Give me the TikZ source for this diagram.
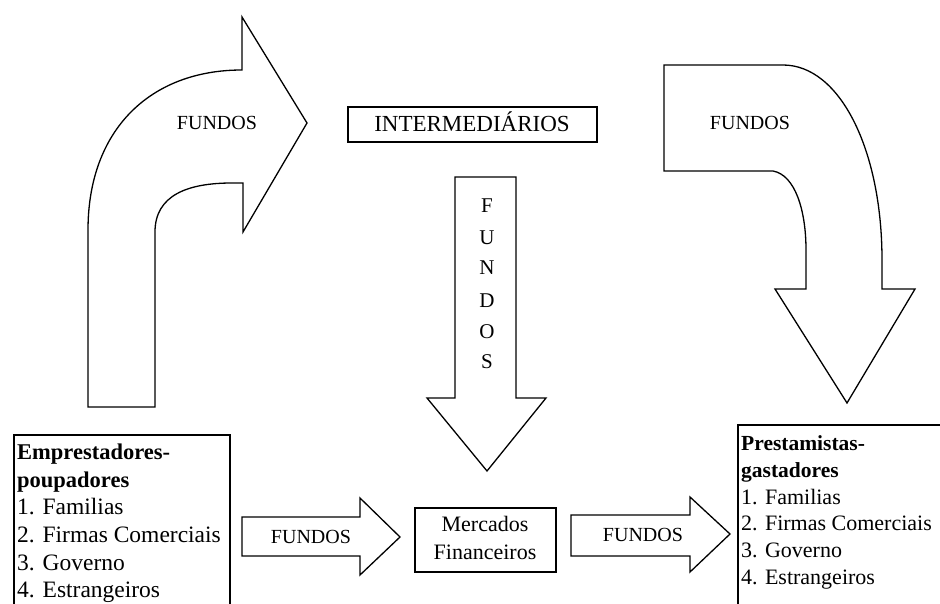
\documentclass[tikz,border=0pt]{standalone}
\usepackage{fontspec}
\setmainfont{Liberation Serif}
\begin{document}
\begin{tikzpicture}[x=1pt,y=-1pt,
  blk/.style={draw=black, line width=1.3pt, line join=miter, fill=white},
  frame/.style={draw=black, line width=1.3pt},
  fundo/.style={font=\fontsize{20}{24}\selectfont, anchor=base, inner sep=0pt},
  vlet/.style={font=\fontsize{21}{24}\selectfont, anchor=base, inner sep=0pt},
  ltxt/.style={font=\fontsize{23.5}{28}\selectfont, anchor=base west, inner sep=0pt},
  lbold/.style={font=\fontsize{22.5}{28}\selectfont\bfseries, anchor=base west, inner sep=0pt},
  rtxt/.style={font=\fontsize{22}{27}\selectfont, anchor=base west, inner sep=0pt},
  rbold/.style={font=\fontsize{21.5}{27}\selectfont\bfseries, anchor=base west, inner sep=0pt},
  mtxt/.style={font=\fontsize{22}{26}\selectfont, anchor=base, inner sep=0pt}]
\useasboundingbox (0,0) rectangle (940,604);
\clip (0,0) rectangle (940,604);

% left curved arrow
\draw[blk] (88,407) -- (88,230) .. controls (88,130) and (150,70) .. (242,70)
  -- (242,17) -- (307,123) -- (243,232) -- (243,183) -- (232,183)
  .. controls (188,183) and (155,195) .. (155,232) -- (155,407) -- cycle;
\node[fundo] (f1) at (217,129.6) {FUNDOS};

% intermediarios
\draw[frame] (348,107) rectangle (597,142);
\node[font=\fontsize{23}{26}\selectfont, anchor=base, inner sep=0pt] (inter) at (472,131.6) {INTERMEDIÁRIOS};

% right curved arrow
\draw[blk] (664,65) -- (783,65) .. controls (840,65) and (882,150) .. (882,260)
  -- (882,289) -- (915,289) -- (847,403) -- (775,289) -- (806,289) -- (806,250)
  .. controls (806,210) and (795,175) .. (773,171) -- (664,171) -- cycle;
\node[fundo] (f2) at (750,129.6) {FUNDOS};

% middle down arrow
\draw[blk] (455,177) -- (516,177) -- (516,398) -- (546,398) -- (487,471)
  -- (427,398) -- (455,398) -- cycle;
\node[vlet] (v1) at (487,213) {F};
\node[vlet] (v2) at (487,244) {U};
\node[vlet] (v3) at (487,275) {N};
\node[vlet] (v4) at (487,307) {D};
\node[vlet] (v5) at (487,338) {O};
\node[vlet] (v6) at (487,368) {S};

% left box
\draw[frame] (14,640) -- (14,435) -- (230,435) -- (230,640);
\node[lbold] (e1) at (17,459) {Emprestadores-};
\node[lbold] (e2) at (17,487) {poupadores};
\node[ltxt] (e3) at (17,514) {1. Familias};
\node[ltxt] (e4) at (17,542) {2. Firmas Comerciais};
\node[ltxt] (e5) at (17,570) {3. Governo};
\node[ltxt] (e6) at (17,597.5) {4. Estrangeiros};

% bottom-left arrow
\draw[blk] (242,517) -- (360,517) -- (360,498) -- (400,537) -- (360,575)
  -- (360,556) -- (242,556) -- cycle;
\node[fundo] (f3) at (311,543.6) {FUNDOS};

% mercados financeiros
\draw[frame] (415,508) rectangle (556,572);
\node[mtxt] (m1) at (485,531) {Mercados};
\node[mtxt] (m2) at (485,559) {Financeiros};

% bottom-right arrow
\draw[blk] (571,515) -- (690,515) -- (690,497) -- (730,534) -- (690,572)
  -- (690,556) -- (571,556) -- cycle;
\node[fundo] (f4) at (643,541.6) {FUNDOS};

% right box
\draw[frame] (738,640) -- (738,425) -- (960,425);
\node[rbold] (p1) at (741,450) {Prestamistas-};
\node[rbold] (p2) at (741,477) {gastadores};
\node[rtxt] (p3) at (741,504) {1. Familias};
\node[rtxt] (p4) at (741,530) {2. Firmas Comerciais};
\node[rtxt] (p5) at (741,557) {3. Governo};
\node[rtxt] (p6) at (741,584) {4. Estrangeiros};
\end{tikzpicture}
\end{document}
